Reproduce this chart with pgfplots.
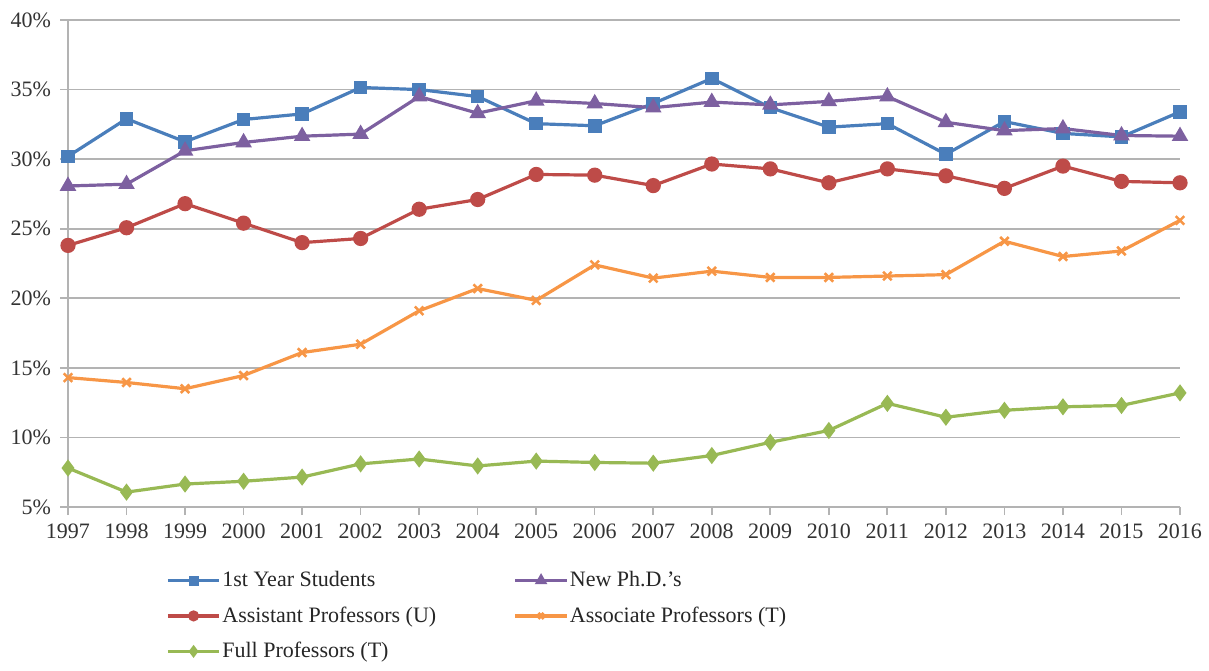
\documentclass[border=0pt]{standalone}
\usepackage{pgfplots}
\pgfplotsset{compat=1.18}
\usepackage{fontspec}
\setmainfont{Liberation Serif}
\definecolor{cblue}{HTML}{4A7EBB}
\definecolor{cpurple}{HTML}{7D60A0}
\definecolor{cred}{HTML}{BE4B48}
\definecolor{corange}{HTML}{F79646}
\definecolor{cgreen}{HTML}{98B954}
\definecolor{cgrid}{HTML}{B3B3B3}
\begin{document}
\begin{tikzpicture}
\begin{axis}[
  scale only axis,
  width=556pt, height=243.5pt,
  xmin=1997, xmax=2016, ymin=5, ymax=40,
  axis lines*=left,
  axis line style={cgrid, line width=0.8pt},
  xtick={1997,...,2016},
  ytick={5,10,...,40},
  yticklabels={5\%,10\%,15\%,20\%,25\%,30\%,35\%,40\%},
  /pgf/number format/1000 sep={},
  /pgf/number format/assume math mode=true,
  ymajorgrids,
  major grid style={cgrid, line width=0.9pt},
  tick align=outside,
  major tick length=4pt,
  tick style={cgrid, line width=0.8pt},
  tick label style={font=\fontsize{11}{13}\selectfont, text=black!80},
  xticklabel style={yshift=-1pt},
  yticklabel style={xshift=-1pt},
  every axis plot/.append style={line width=1.6pt},
  legend columns=2,
  legend cell align=left,
  legend style={draw=none, at={(rel axis cs:0.0827,0)}, anchor=north west, yshift=-28pt,
    font=\fontsize{11}{13}\selectfont, text=black!85, row sep=4.5pt,
    nodes={inner xsep=0.8pt},
    /tikz/every even column/.append style={column sep=38pt},
    /tikz/every odd column/.append style={column sep=0pt}},
  legend image code/.code={\draw[mark repeat=2,mark phase=2,mark options={scale=0.65}] plot coordinates {(0cm,0cm)(0.45cm,0cm)(0.9cm,0cm)};},
]
\addplot[cblue, mark=square*, mark size=2.6pt] coordinates {
(1997,30.2)(1998,32.9)(1999,31.25)(2000,32.85)(2001,33.25)(2002,35.15)(2003,35.0)(2004,34.5)(2005,32.55)(2006,32.4)(2007,34.0)(2008,35.8)(2009,33.7)(2010,32.3)(2011,32.55)(2012,30.35)(2013,32.7)(2014,31.85)(2015,31.6)(2016,33.4)};
\addlegendentry{1st Year Students}
\addplot[cpurple, mark=triangle*, mark size=3.2pt] coordinates {
(1997,28.07)(1998,28.2)(1999,30.6)(2000,31.2)(2001,31.65)(2002,31.8)(2003,34.5)(2004,33.3)(2005,34.2)(2006,34.0)(2007,33.7)(2008,34.1)(2009,33.9)(2010,34.15)(2011,34.5)(2012,32.65)(2013,32.05)(2014,32.2)(2015,31.7)(2016,31.65)};
\addlegendentry{New Ph.D.'s}
\addplot[cred, mark=*, mark size=3pt] coordinates {
(1997,23.8)(1998,25.07)(1999,26.8)(2000,25.4)(2001,24.0)(2002,24.3)(2003,26.4)(2004,27.1)(2005,28.9)(2006,28.85)(2007,28.1)(2008,29.65)(2009,29.3)(2010,28.3)(2011,29.3)(2012,28.8)(2013,27.9)(2014,29.5)(2015,28.4)(2016,28.3)};
\addlegendentry{Assistant Professors (U)}
\addplot[corange, mark=x, mark size=3pt, mark options={line width=1.3pt}] coordinates {
(1997,14.3)(1998,13.95)(1999,13.5)(2000,14.45)(2001,16.1)(2002,16.7)(2003,19.1)(2004,20.7)(2005,19.85)(2006,22.4)(2007,21.45)(2008,21.95)(2009,21.5)(2010,21.5)(2011,21.6)(2012,21.7)(2013,24.1)(2014,23.0)(2015,23.4)(2016,25.6)};
\addlegendentry{Associate Professors (T)}
\addplot[cgreen, mark=diamond*, mark size=3pt] coordinates {
(1997,7.8)(1998,6.07)(1999,6.65)(2000,6.85)(2001,7.15)(2002,8.1)(2003,8.45)(2004,7.95)(2005,8.3)(2006,8.2)(2007,8.15)(2008,8.7)(2009,9.65)(2010,10.5)(2011,12.45)(2012,11.45)(2013,11.95)(2014,12.2)(2015,12.3)(2016,13.2)};
\addlegendentry{Full Professors (T)}
\end{axis}
\pgfresetboundingbox
\useasboundingbox (-34pt,-81.5pt) rectangle (570.5pt,253.5pt);
\end{tikzpicture}
\end{document}
